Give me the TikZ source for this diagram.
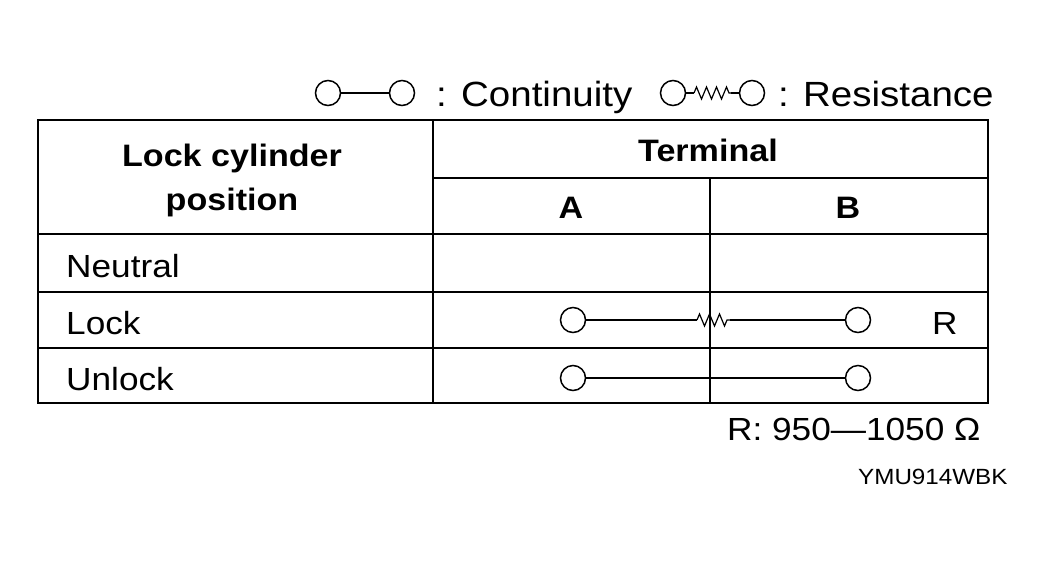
\documentclass[tikz,border=0pt]{standalone}
\usepackage{fontspec}
\setmainfont[FakeStretch=1.1]{Liberation Sans}
\usetikzlibrary{decorations.pathmorphing}
\begin{document}
\begin{tikzpicture}[x=1pt,y=-1pt,
 term/.style={circle,draw,line width=1.5pt,minimum size=25pt,inner sep=0pt},
 lbl/.style={anchor=base west,inner sep=0pt,font=\fontsize{32}{34}\selectfont},
 hd/.style={inner sep=0pt,font=\fontsize{31}{44}\selectfont\bfseries,align=center},
 res/.style={decorate,decoration={zigzag,segment length=10pt,amplitude=6pt}},
 wire/.style={line width=1.2pt}]
\useasboundingbox (0,0) rectangle (1048,560);
% table
\draw[line width=2pt] (38,120) rectangle (988,403);
\draw[line width=1.5pt] (433,120) -- (433,403);
\draw[line width=1.5pt] (433,178) -- (988,178);
\draw[line width=1.5pt] (710,178) -- (710,403);
\draw[line width=1.5pt] (38,234) -- (988,234);
\draw[line width=1.5pt] (38,292) -- (988,292);
\draw[line width=1.5pt] (38,348) -- (988,348);
\node[hd] (h1) at (232,180) {Lock cylinder\\position};
\node[hd] (h2) at (708,150) {Terminal};
\node[hd] (ha) at (571,208) {A};
\node[hd] (hb) at (848,208) {B};
\node[lbl] (n1) at (66,277) {Neutral};
\node[lbl] (n2) at (66,334) {Lock};
\node[lbl] (n3) at (66,390) {Unlock};
% lock row
\node[term] (la) at (573,320) {};
\node[term] (lb) at (858,320) {};
\coordinate (lr1) at (697,320);
\coordinate (lr2) at (730,320);
\draw[wire] (la) -- (lr1);
\draw[wire,res] (lr1) -- (lr2);
\draw[wire] (lr2) -- (lb);
\node[lbl] (rr) at (932,334) {R};
% unlock row
\node[term] (ua) at (573,378) {};
\node[term] (ub) at (858,378) {};
\draw[line width=2pt] (ua) -- (ub);
% legend
\node[term] (c1) at (328,93) {};
\node[term] (c2) at (402,93) {};
\draw[wire] (c1) -- (c2);
\node[lbl,font=\fontsize{35}{36}\selectfont] (ct) at (436,106) {: Continuity};
\node[term] (r1) at (673,93) {};
\node[term] (r2) at (752,93) {};
\coordinate (q1) at (694,93);
\coordinate (q2) at (731,93);
\draw[wire] (r1) -- (q1);
\draw[wire,res] (q1) -- (q2);
\draw[wire] (q2) -- (r2);
\node[lbl,font=\fontsize{35}{36}\selectfont] (rt) at (778,106) {: Resistance};
\node[lbl] (rv) at (727,440) {R: 950—1050 Ω};
\node[lbl,font=\fontsize{22}{24}\selectfont] (code) at (858,484) {YMU914WBK};
\end{tikzpicture}
\end{document}
